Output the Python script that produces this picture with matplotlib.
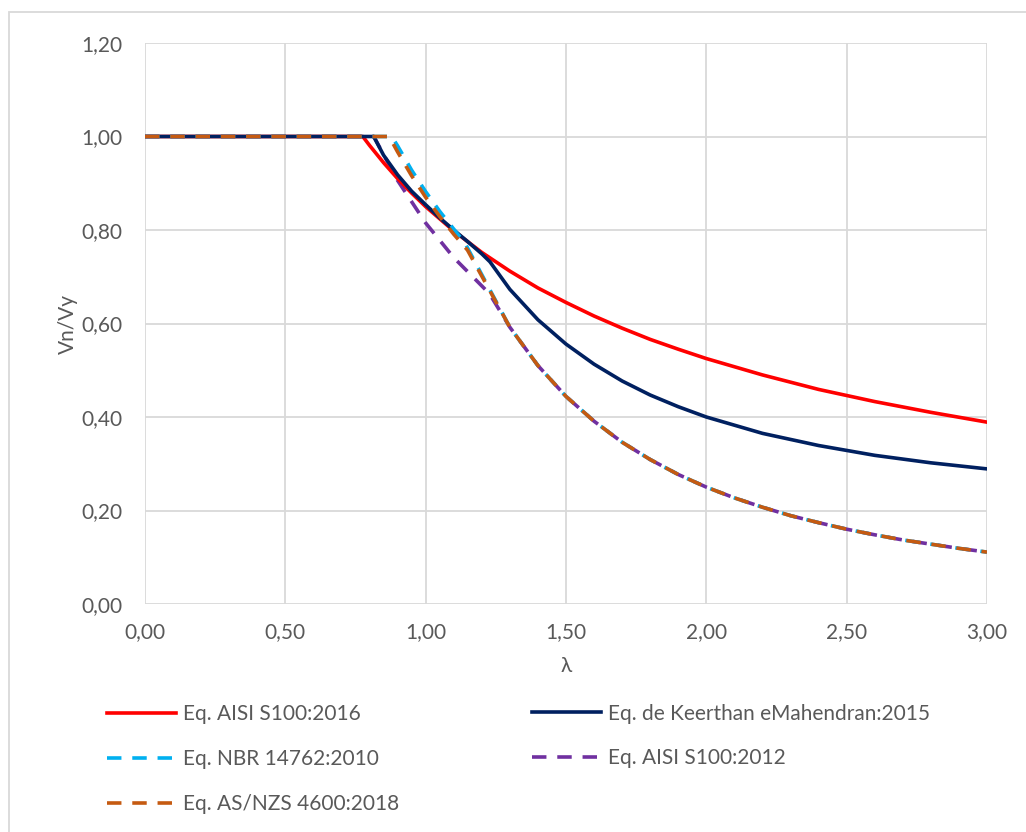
import matplotlib.pyplot as plt
from matplotlib.patches import Rectangle

# valores (lambda x Vn/Vy)
lam_aisi16 = [0.00, 0.776, 0.80, 0.85, 0.90, 0.95, 1.00, 1.10, 1.20, 1.30, 1.40, 1.50, 1.60, 1.70,
              1.80, 1.90, 2.00, 2.20, 2.40, 2.60, 2.80, 3.00]
vn_aisi16 = [1.000, 1.000, 0.981, 0.944, 0.910, 0.879, 0.850, 0.798, 0.752, 0.712, 0.676, 0.645, 0.616, 0.590,
             0.566, 0.545, 0.525, 0.490, 0.459, 0.433, 0.410, 0.389]

lam_km = [0.00, 0.815, 0.85, 0.90, 0.95, 1.00, 1.05, 1.10, 1.15, 1.20, 1.229, 1.30, 1.40, 1.50, 1.60,
          1.70, 1.80, 1.90, 2.00, 2.20, 2.40, 2.60, 2.80, 3.00]
vn_km = [1.000, 1.000, 0.960, 0.918, 0.883, 0.854, 0.826, 0.800, 0.775, 0.749, 0.732, 0.673, 0.608, 0.556, 0.513,
         0.477, 0.447, 0.422, 0.400, 0.365, 0.339, 0.318, 0.302, 0.289]

lam_dash = [1.20, 1.30, 1.40, 1.50, 1.60, 1.70, 1.80, 1.90, 2.00, 2.10, 2.20, 2.30, 2.40, 2.50,
            2.60, 2.70, 2.80, 2.90, 3.00]
vn_dash = [0.694, 0.592, 0.510, 0.444, 0.391, 0.346, 0.309, 0.277, 0.250, 0.227, 0.207, 0.189, 0.174, 0.160,
           0.148, 0.137, 0.128, 0.119, 0.111]

lam_nbr = [0.00, 0.879, 0.90, 0.95, 1.00, 1.05, 1.10, 1.14] + lam_dash[1:]
vn_nbr = [1.000, 1.000, 0.980, 0.928, 0.882, 0.840, 0.802, 0.772] + vn_dash[1:]

lam_aisi12 = [0.00, 0.815, 0.90, 1.00, 1.10, 1.227] + lam_dash[1:]
vn_aisi12 = [1.000, 1.000, 0.906, 0.815, 0.741, 0.664] + vn_dash[1:]

lam_asnzs = [0.00, 0.870, 0.90, 0.95, 1.00, 1.05, 1.10, 1.149] + lam_dash[1:]
vn_asnzs = [1.000, 1.000, 0.967, 0.916, 0.870, 0.829, 0.791, 0.757] + vn_dash[1:]

labels = ["Eq. AISI S100:2016", "Eq. de Keerthan eMahendran:2015", "Eq. NBR 14762:2010",
          "Eq. AISI S100:2012", "Eq. AS/NZS 4600:2018"]
cores = ["#FF0000", "#002060", "#00B0F0", "#7030A0", "#C55A11"]

plt.rcParams['font.family'] = ['Lato', 'DejaVu Sans']
cinza = "#595959"
fs = 15

fig = plt.figure(figsize=(10.26, 8.32), dpi=100)
ax = fig.add_axes([145/1026, 1-604/832, (987-145)/1026, (604-43)/832])

lw = 2.6
dash = (4, 3)
l4, = ax.plot(lam_aisi12, vn_aisi12, color=cores[3], lw=lw, dashes=dash, zorder=3)
l1, = ax.plot(lam_aisi16, vn_aisi16, color=cores[0], lw=lw, zorder=4)
l2, = ax.plot(lam_km, vn_km, color=cores[1], lw=lw, zorder=4)
l3, = ax.plot(lam_nbr, vn_nbr, color=cores[2], lw=lw, dashes=dash, zorder=5)
l5, = ax.plot(lam_asnzs, vn_asnzs, color=cores[4], lw=lw, dashes=dash, zorder=6)

ax.set_xlim(0, 3)
ax.set_ylim(0, 1.2)
xt = [0, 0.5, 1.0, 1.5, 2.0, 2.5, 3.0]
yt = [0, 0.2, 0.4, 0.6, 0.8, 1.0, 1.2]
ax.set_xticks(xt)
ax.set_yticks(yt)
ax.set_xticklabels([f"{v:.2f}".replace(".", ",") for v in xt])
ax.set_yticklabels([f"{v:.2f}".replace(".", ",") for v in yt])
ax.tick_params(length=0, labelsize=fs, colors=cinza)
ax.tick_params(axis='y', pad=16.5)
ax.tick_params(axis='x', pad=13)
ax.grid(True, color="#D9D9D9", lw=1.3)
ax.set_axisbelow(True)
for s in ax.spines.values():
    s.set_visible(False)
ax.set_xlabel("λ", fontsize=fs, color=cinza, labelpad=10)
ax.set_ylabel("Vn/Vy", fontsize=fs, color=cinza, labelpad=2)

# legenda em duas colunas como no excel
kw = dict(frameon=False, fontsize=fs, labelcolor=cinza, handlelength=3.3, handletextpad=0.34,
          labelspacing=1.2, borderaxespad=0, borderpad=0, loc='center left')
fig.legend([l1, l3, l5], [labels[0], labels[2], labels[4]], bbox_to_anchor=(107/1026, 1-759/832), **kw)
fig.legend([l2, l4], [labels[1], labels[3]], bbox_to_anchor=(532/1026, 1-736/832), **kw)

# borda do grafico
fig.add_artist(Rectangle((9/1026, -0.05), 1.2, 1-12/832+0.05, transform=fig.transFigure,
                         fill=False, edgecolor="#D9D9D9", lw=1.3))

fig.savefig("out.png", dpi=100)
